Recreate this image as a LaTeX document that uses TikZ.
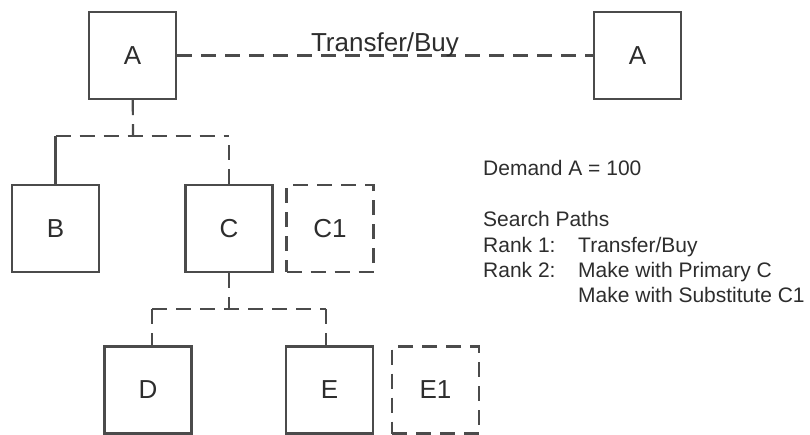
\documentclass[tikz,border=0pt]{standalone}
\usepackage{fontspec}
\setmainfont{Liberation Sans}
\usepackage{tikz}

\definecolor{linegray}{RGB}{75,75,75}
\definecolor{textgray}{RGB}{45,45,45}

\begin{document}
\begin{tikzpicture}[x=1pt, y=-1pt,
  item/.style={draw=linegray, line width=2.4pt, minimum size=87pt, inner sep=0pt,
    text=textgray, font=\fontsize{26}{30}\selectfont},
  dashline/.style={dash pattern=on 15pt off 9pt},
  alt/.style={item, dashline},
  link/.style={draw=linegray, line width=2.2pt},
  note/.style={anchor=base west, inner sep=0pt, text=textgray,
    font=\fontsize{21}{25}\selectfont}]

\useasboundingbox (0,0) rectangle (810,434);

% Draw the items
\node[item] (A) at (132.5,55.5) {A};
\node[item] (A2) at (637.5,55.5) {A};
\node[item] (B) at (55.5,228.5) {B};
\node[item] (C) at (229,228.5) {C};
\node[alt] (C1) at (330,228.5) {C1};
\node[item] (D) at (148,390) {D};
\node[item] (E) at (329.5,390) {E};
\node[alt] (E1) at (435.5,390) {E1};

% Transfer/Buy path between the two A's
\draw[link, dashline] (A) -- (A2)
  node[midway, anchor=base, yshift=4pt, inner sep=0pt, text=textgray,
    font=\fontsize{26}{30}\selectfont] (tb) {Transfer/Buy};

% Draw the structure of A
\coordinate (jA) at (133,136);
\draw[link, dashline] (A) -- (jA);
\draw[link, dashline] (B.north |- jA) -- (C.north |- jA);
\draw[link] (B) -- (B.north |- jA);
\draw[link, dashline] (C) -- (C.north |- jA);

% Draw the structure of C
\coordinate (jC) at (229,309);
\coordinate (dL) at (152,309);
\coordinate (dR) at (326,309);
\draw[link, dashline] (C) -- (jC);
\draw[link, dashline] (dL) -- (dR);
\draw[link, dashline] (dL) -- (dL |- D.north);
\draw[link, dashline] (dR) -- (dR |- E.north);

% Notes on the right
\node[note] (demand) at (483,175) {Demand A = 100};
\node[note] (search) at (483,226) {Search Paths};
\node[note] (rank1) at (483,252) {Rank 1:};
\node[note] (path1) at (578,252) {Transfer/Buy};
\node[note] (rank2) at (483,277) {Rank 2:};
\node[note] (path2) at (578,277) {Make with Primary C};
\node[note] (path3) at (578,302) {Make with Substitute C1};

\end{tikzpicture}
\end{document}
